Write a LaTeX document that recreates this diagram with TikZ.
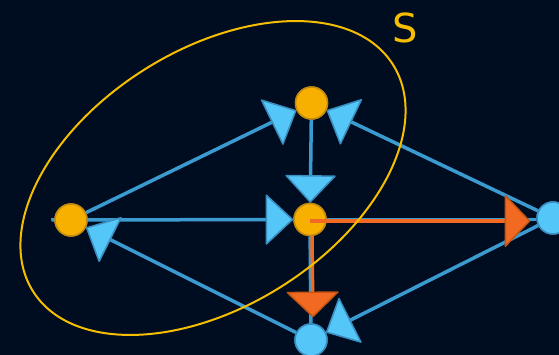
\documentclass[tikz,border=0pt]{standalone}
\usepackage{fontspec}
\setsansfont{DejaVu Sans}
\usetikzlibrary{arrows.meta}
\definecolor{bg}{HTML}{000D20}
\definecolor{bluel}{HTML}{3B9BD0}
\definecolor{bluef}{HTML}{55C6F8}
\definecolor{blueb}{HTML}{3A8EC0}
\definecolor{orn}{HTML}{F8B000}
\definecolor{ornb}{HTML}{C08A10}
\definecolor{ore}{HTML}{F26A22}
\definecolor{oreb}{HTML}{C45515}
\definecolor{gold}{HTML}{F5BE00}
\tikzset{
  onode/.style={circle,minimum size=32pt,inner sep=0pt,fill=orn,draw=ornb,line width=1.5pt},
  bnode/.style={circle,minimum size=32pt,inner sep=0pt,fill=bluef,draw=blueb,line width=1.5pt},
  bedge/.style={draw=bluel,line width=3.5pt,-{Triangle[length=28pt,width=52pt,line width=1.5pt,color=blueb,fill=bluef,round]}},
  oedge/.style={draw=ore,line width=3.5pt,-{Triangle[length=26pt,width=54pt,line width=1.5pt,color=oreb,fill=ore,round]}},
  plainb/.style={draw=bluel,line width=3.5pt},
}
\begin{document}
\begin{tikzpicture}[x=1pt,y=-1pt]
\fill[bg] (0,0) rectangle (559,355);
\useasboundingbox (0,0) rectangle (559,355);
\node[onode] (A) at (71,220) {};
\node[onode] (B) at (311.5,103) {};
\node[onode] (C) at (310,219.5) {};
\node[bnode] (D) at (311,340) {};
\node[bnode] (E) at (553,218) {};
% edges
\draw[bedge] (A) -- (B);
\draw[bedge] (E) -- (B);
\draw[bedge] (B) -- (C);
\draw[bedge] ([xshift=-3pt]A.west) -- (C);
\draw[bedge] (D) -- (A);
\draw[bedge] (E) -- (D);
\draw[plainb] (C) -- (D);
\draw[plainb] (C.center) -- (C.center -| E.west);
% nodes on top
\node[onode] at (A) {};
\node[onode] at (B) {};
\node[onode] at (C) {};
\node[bnode] at (D) {};
\node[bnode] at (E) {};
% orange overlay
\draw[oedge,shorten >=6pt] ([yshift=-1.5pt]C.center) -- ([yshift=-1.5pt]C.center -| E.west);
\draw[oedge,shorten >=6pt] ([xshift=2pt]C.south) -- ([xshift=2pt]D.north);
% ellipse
\draw[gold,line width=2pt,rotate around={32.2:(213,178)}] (213,178) ellipse [x radius=212.7pt,y radius=128.3pt];
\node[text=gold,font=\sffamily\fontsize{40}{40}\selectfont,inner sep=0pt] (S) at (405,28) {S};
\end{tikzpicture}
\end{document}
